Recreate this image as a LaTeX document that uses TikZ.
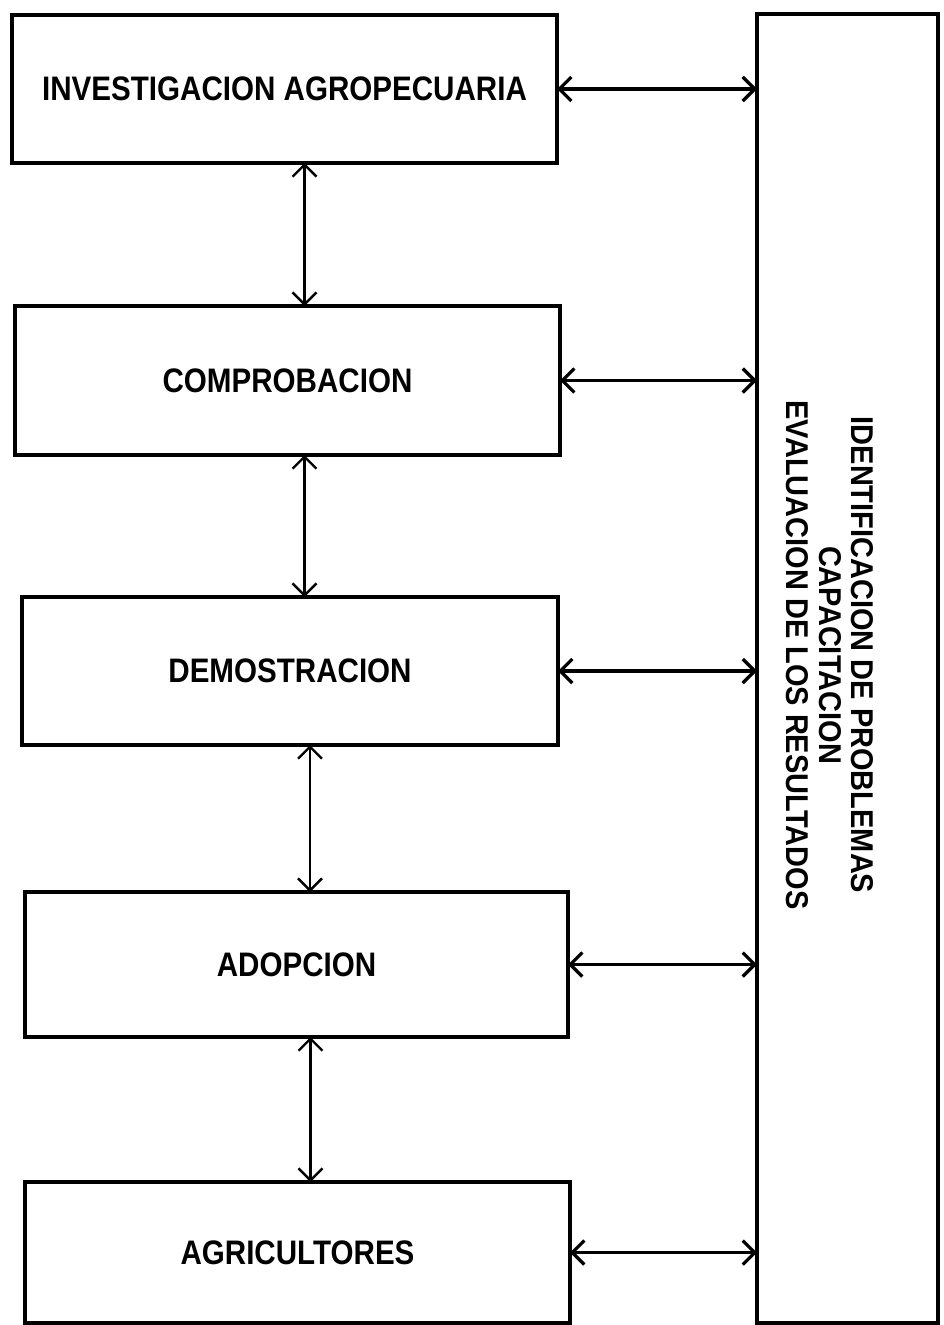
\documentclass[tikz,border=0pt]{standalone}
\usepackage{fontspec}
\setmainfont{Liberation Sans}
\newfontfamily\stagefont[FakeStretch=0.87]{Liberation Sans}
\newfontfamily\sidefont[FakeStretch=0.92]{Liberation Sans}
\usetikzlibrary{arrows.meta}
\tikzset{barbtip/.tip={Straight Barb[length=12pt,width=24pt]}}
\begin{document}
\begin{tikzpicture}[x=1pt,y=-1pt,
  stage/.style={draw, line width=4.2pt, inner sep=0pt, outer sep=0pt,
    font=\stagefont\bfseries\fontsize{34}{36}\selectfont},
  sidebar/.style={draw, line width=4.2pt, inner sep=0pt, outer sep=0pt},
  sidetext/.style={rotate=-90, align=center, inner sep=0pt,
    font=\sidefont\bfseries\fontsize{31.5}{32.5}\selectfont},
  link/.style={barbtip-barbtip, line width=3.2pt},
  flow/.style={barbtip-barbtip, line width=2.4pt}]
\useasboundingbox (0,0) rectangle (944,1325);

% stages of the process
\node[stage, minimum width=545pt, minimum height=148pt] (b1) at (284.5,89)  {INVESTIGACION AGROPECUARIA};
\node[stage, minimum width=545pt, minimum height=149pt] (b2) at (287.5,380.5) {COMPROBACION};
\node[stage, minimum width=536pt, minimum height=148pt] (b3) at (290,671)   {DEMOSTRACION};
\node[stage, minimum width=543pt, minimum height=145pt] (b4) at (296.5,964.5) {ADOPCION};
\node[stage, minimum width=545pt, minimum height=141pt] (b5) at (297.5,1252.5) {AGRICULTORES};

% tall side box with its rotated heading
\node[sidebar, minimum width=181pt, minimum height=1309pt] (R) at (847.5,668.5) {};
\node[sidetext] (Rt) at (830,655) {IDENTIFICACION DE PROBLEMAS\\CAPACITACION\\EVALUACION DE LOS RESULTADOS};

% links between consecutive stages
\draw[flow] ([xshift=20pt]b1.south) -- ([xshift=20pt]b1.south |- b2.north);
\draw[flow] ([xshift=17pt]b2.south) -- ([xshift=17pt]b2.south |- b3.north);
\draw[flow] ([xshift=20pt]b3.south) -- ([xshift=20pt]b3.south |- b4.north);
\draw[flow] ([xshift=14pt]b4.south) -- ([xshift=14pt]b4.south |- b5.north);

% links from each stage to the side box
\foreach \b in {b1,b2,b3,b4,b5}
  \draw[link] (\b.east) -- (\b.east -| R.west);
\end{tikzpicture}
\end{document}
